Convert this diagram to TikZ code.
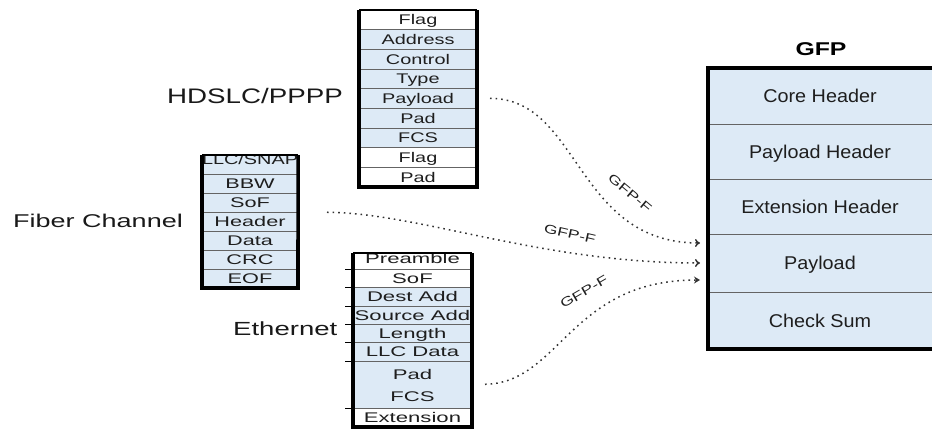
\documentclass[tikz,border=0pt]{standalone}
\usepackage{fontspec}
\setmainfont{Liberation Sans}
\usetikzlibrary{arrows.meta}
\definecolor{lblue}{RGB}{221,234,246}
\definecolor{sepc}{RGB}{100,100,100}
\definecolor{txt}{RGB}{30,30,30}
\newcommand{\sx}[2][1.42]{\scalebox{#1}[1]{#2}}
\tikzset{
  cell/.style={anchor=north west, inner sep=0pt, outer sep=0pt, text height=10pt, text depth=0pt,
    font=\fontsize{14}{14}\selectfont, text=txt},
  bl/.style={cell, fill=lblue},
  wh/.style={cell, fill=white},
  gcell/.style={anchor=north west, inner sep=0pt, outer sep=0pt, text height=13.3pt, text depth=0pt,
    font=\fontsize{18.5}{18.5}\selectfont, text=txt, fill=lblue, minimum width=224pt},
  txtonly/.style={inner sep=0pt, outer sep=0pt, text height=10pt, text depth=0pt,
    font=\fontsize{14}{14}\selectfont, text=txt},
  sep/.style={draw=sepc, line width=0.8pt},
  tick/.style={draw=black, line width=0.8pt},
  frame/.style={line width=3.6pt, black},
  topline/.style={line width=1.2pt, black},
  flow/.style={draw=black!80, line width=1.5pt, dash pattern=on 1.6pt off 4pt},
  lab/.style={inner sep=0pt, text=txt, font=\fontsize{12.5}{12.5}\selectfont},
  title/.style={inner sep=0pt, anchor=base west, text=black!90},
}
\begin{document}
\begin{tikzpicture}[x=1pt, y=-1pt]
\useasboundingbox (0,0) rectangle (932,429);

% ---------------- HDSLC/PPPP ----------------
\begin{scope}[every node/.append style={minimum width=118pt, minimum height=19.67pt}]
\node[wh] (h1) at (359,10)     {\sx{Flag}};
\node[bl] (h2) at (359,29.67)  {\sx{Address}};
\node[bl] (h3) at (359,49.33)  {\sx{Control}};
\node[bl] (h4) at (359,69)     {\sx{Type}};
\node[bl] (h5) at (359,88.67)  {\sx{Payload}};
\node[bl] (h6) at (359,108.33) {\sx{Pad}};
\node[bl] (h7) at (359,128)    {\sx{FCS}};
\node[wh] (h8) at (359,147.67) {\sx{Flag}};
\node[wh] (h9) at (359,167.33) {\sx{Pad}};
\end{scope}
\foreach \i in {1,...,8} \draw[sep] (h\i.south west) -- (h\i.south east);
\draw[topline] (h1.north west) -- (h1.north east);
\draw[frame] (h1.north west) -- (h9.south west) -- (h9.south east) -- (h1.north east);

% ---------------- Fiber Channel ----------------
\begin{scope}
\clip (202,156) rectangle (298,290);
\begin{scope}[every node/.append style={minimum width=96pt, minimum height=19pt}]
\node[bl] (f1) at (202,155) {\raisebox{5pt}[0pt][0pt]{\sx[1.42]{LLC/SNAP}}};
\node[bl] (f2) at (202,174) {\sx[1.55]{BBW}};
\node[bl] (f3) at (202,193) {\sx[1.55]{SoF}};
\node[bl] (f4) at (202,212) {\sx[1.55]{Header}};
\node[bl] (f5) at (202,231) {\sx[1.55]{Data}};
\node[bl] (f6) at (202,250) {\sx[1.55]{CRC}};
\node[bl] (f7) at (202,269) {\sx[1.55]{EOF}};
\end{scope}
\end{scope}
\foreach \i in {1,...,6} \draw[sep] (f\i.south west) -- (f\i.south east);
\draw[topline] (f1.north west) -- (f1.north east);
\draw[frame] (f1.north west) -- (f7.south west) -- (f7.south east) -- (f1.north east);

% ---------------- Ethernet ----------------
\begin{scope}
\clip (353,254.5) rectangle (472,429);
\begin{scope}[every node/.append style={minimum width=119pt}]
\node[wh, minimum height=16pt]   (e1) at (353,253)   {\raisebox{2.5pt}[0pt][0pt]{\sx[1.58]{Preamble}}};
\node[wh, minimum height=18.5pt] (e2) at (353,269)   {\sx[1.58]{SoF}};
\node[bl, minimum height=18.5pt] (e3) at (353,287.5) {\sx[1.58]{Dest Add}};
\node[bl, minimum height=18pt]   (e4) at (353,306)   {\sx[1.58]{Source Add}};
\node[bl, minimum height=18pt]   (e5) at (353,324)   {\sx[1.58]{Length}};
\node[bl, minimum height=19pt]   (e6) at (353,342)   {\sx[1.58]{LLC Data}};
\node[bl, minimum height=47pt]   (e7) at (353,361)   {};
\node[wh, minimum height=19pt]   (e8) at (353,408)   {\sx[1.58]{Extension}};
\end{scope}
\end{scope}
\node[txtonly] (e7a) at ([yshift=10.5pt]e7.center)  {\sx[1.58]{Pad}};
\node[txtonly] (e7b) at ([yshift=-11.5pt]e7.center) {\sx[1.58]{FCS}};
\foreach \i in {1,...,7} {
  \draw[sep] (e\i.south west) -- (e\i.south east);
  \draw[tick] (e\i.south west) -- ++(-8,0);
}
\draw[topline] (e1.north west) -- (e1.north east);
\draw[frame] (e1.north west) -- (e8.south west) -- (e8.south east) -- (e1.north east);

% ---------------- GFP ----------------
\node[gcell, minimum height=56pt] (g1) at (708,68)  {\sx[1.07]{Core Header}};
\node[gcell, minimum height=55pt] (g2) at (708,124) {\sx[1.07]{Payload Header}};
\node[gcell, minimum height=55pt] (g3) at (708,179) {\sx[1.07]{Extension Header}};
\node[gcell, minimum height=58pt] (g4) at (708,234) {\sx[1.07]{Payload}};
\node[gcell, minimum height=57pt] (g5) at (708,292) {\sx[1.07]{Check Sum}};
\foreach \i in {1,...,4} \draw[sep] (g\i.south west) -- (g\i.south east);
\draw[frame] (g1.north east) -- (g1.north west) -- (g5.south west) -- (g5.south east);
\node[inner sep=0pt, anchor=base, font=\fontsize{18.5}{18.5}\selectfont\bfseries] (gt) at (821,55) {\sx[1.34]{GFP}};

% ---------------- Titles ----------------
\node[title, font=\fontsize{21}{21}\selectfont]     (th) at (167,103) {\sx[1.32]{HDSLC/PPPP}};
\node[title, font=\fontsize{18.5}{18.5}\selectfont] (tf) at (13,227)  {\sx[1.46]{Fiber Channel}};
\node[title, font=\fontsize{19}{19}\selectfont]     (te) at (233,335) {\sx[1.45]{Ethernet}};

% ---------------- Flows ----------------
\coordinate (a1) at ([shift={(-8,-20)}]g4.west);
\coordinate (a2) at ([shift={(-8,0)}]g4.west);
\coordinate (a3) at ([shift={(-8,17)}]g4.west);
\draw[flow, shorten <=13pt, -{To[length=5pt,width=8pt]}]
  (h5.east) .. controls (580,98) and (575,243) .. (a1);
\draw[flow, shorten <=29pt, -{To[length=5pt,width=8pt]}]
  (f4.north east) .. controls (420,213) and (540,263) .. (a2);
\draw[flow, shorten <=13pt, -{Stealth[length=6pt,width=7pt]}]
  (e7.east) .. controls (560,383) and (570,280) .. (a3);

\node[lab, rotate=-40] (l1) at (630,193) {\sx[1.4]{GFP-F}};
\node[lab, rotate=-13] (l2) at (570,234) {\sx[1.4]{GFP-F}};
\node[lab, rotate=30]  (l3) at (584,292) {\sx[1.4]{GFP-F}};
\end{tikzpicture}
\end{document}
